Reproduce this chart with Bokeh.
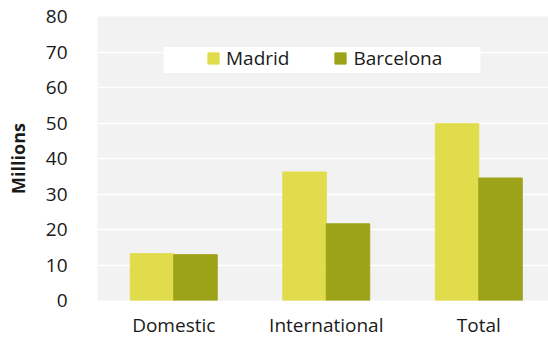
from bokeh.plotting import figure
from bokeh.models import ColumnDataSource, FixedTicker, Legend, LegendItem, BoxAnnotation, Range1d
from bokeh.embed import file_html
from bokeh.resources import INLINE

categories = ["Domestic", "International", "Total"]
madrid = [13.2, 36.2, 49.8]
barcelona = [12.9, 21.6, 34.5]
y_ticks = [0, 10, 20, 30, 40, 50, 60, 70, 80]

MADRID_C = "#E1DC4C"
BARCA_C = "#9DA319"
FONT = "Open Sans"

centers = [i + 0.5 for i in range(len(categories))]
bw = 0.285
src = ColumnDataSource(dict(
    xm=[c - bw / 2 for c in centers],
    xb=[c + bw / 2 for c in centers],
    madrid=madrid,
    barcelona=barcelona,
))

p = figure(width=548, height=340, output_backend="svg", toolbar_location=None,
           x_range=Range1d(0, 2.957), y_range=Range1d(0, 80),
           min_border_left=97, min_border_right=0, min_border_top=16, min_border_bottom=38)
p.background_fill_color = "#F2F2F2"
p.border_fill_color = "white"
p.outline_line_color = None

r1 = p.vbar(x="xm", top="madrid", width=bw, source=src, color=MADRID_C)
r2 = p.vbar(x="xb", top="barcelona", width=bw, source=src, color=BARCA_C)

p.xgrid.grid_line_color = None
p.ygrid.grid_line_color = "white"
p.ygrid.grid_line_width = 1.5
p.yaxis.ticker = FixedTicker(ticks=y_ticks)
p.xaxis.ticker = FixedTicker(ticks=centers)
p.xaxis.major_label_overrides = {c: n for c, n in zip(centers, categories)}

for ax in (p.xaxis[0], p.yaxis[0]):
    ax.axis_line_color = None
    ax.major_tick_line_color = None
    ax.minor_tick_line_color = None
    ax.major_tick_out = 0
    ax.major_tick_in = 0
    ax.major_label_text_font = FONT
    ax.major_label_text_font_size = "19px"
    ax.major_label_text_color = "#1a1a1a"

p.yaxis.major_label_standoff = 30
p.xaxis.major_label_standoff = 11
p.yaxis.axis_label = "Millions"
p.yaxis.axis_label_text_font = FONT
p.yaxis.axis_label_text_font_size = "18px"
p.yaxis.axis_label_text_font_style = "bold"
p.yaxis.axis_label_text_color = "#1a1a1a"
p.yaxis.axis_label_standoff = 13

box = BoxAnnotation(left=0.433, right=2.511, top=71.4, bottom=64.1,
                    fill_color="white", fill_alpha=1.0, line_color=None, level="underlay")
p.add_layout(box)

legend = Legend(items=[LegendItem(label="Madrid", renderers=[r1]),
                       LegendItem(label="Barcelona", renderers=[r2])],
                orientation="horizontal", location=(109, 229),
                padding=0, margin=0, spacing=44, label_standoff=6,
                glyph_width=14, glyph_height=14,
                background_fill_alpha=0, border_line_color=None,
                label_text_font=FONT, label_text_font_size="19px", label_text_color="#1a1a1a")
p.add_layout(legend, "center")

open("out.html", "w").write(file_html(p, INLINE))
